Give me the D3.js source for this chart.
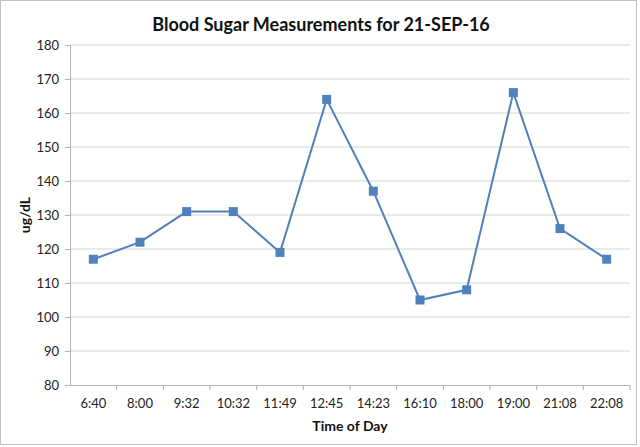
<!DOCTYPE html>
<html>
<head>
<meta charset="utf-8">
<script src="https://cdn.jsdelivr.net/npm/d3@7"></script>
<style>
  body { margin: 0; background: #fff; }
  svg { display: block; font-family: Lato, "Open Sans", sans-serif; }
</style>
</head>
<body>
<div id="chart"></div>
<script>
var times = ["6:40", "8:00", "9:32", "10:32", "11:49", "12:45", "14:23", "16:10", "18:00", "19:00", "21:08", "22:08"];
var sugar = [117, 122, 131, 131, 119, 164, 137, 105, 108, 166, 126, 117];
var yTicks = [80, 90, 100, 110, 120, 130, 140, 150, 160, 170, 180];

var w = 640, h = 447;
var margin = { left: 70, right: 10, top: 45, bottom: 62 };
var color = "#4f81bd";

var svg = d3.select("#chart").append("svg")
    .attr("width", w)
    .attr("height", h);

// outer frame
svg.append("rect")
    .attr("x", 0.5).attr("y", 0.5)
    .attr("width", w - 4).attr("height", h - 3)
    .attr("fill", "#fff")
    .attr("stroke", "#bfbfbf");

var x = d3.scaleBand()
    .domain(times)
    .range([margin.left, w - margin.right]);

var y = d3.scaleLinear()
    .domain([80, 180])
    .range([h - margin.bottom, margin.top]);

// gridlines
svg.append("g")
    .selectAll("line")
    .data(yTicks.slice(1))
    .enter().append("line")
    .attr("x1", margin.left)
    .attr("x2", w - margin.right)
    .attr("y1", d => y(d))
    .attr("y2", d => y(d))
    .attr("stroke", "#d4d4d4")
    .attr("stroke-width", 1);

// y axis
var yAxis = svg.append("g")
    .attr("transform", "translate(" + margin.left + ",0)")
    .call(d3.axisLeft(y).tickValues(yTicks).tickSize(5).tickPadding(6));
yAxis.select(".domain").attr("stroke", "#b3b3b3");
yAxis.selectAll(".tick line").attr("stroke", "#b3b3b3");
yAxis.selectAll("text").attr("font-size", 13).attr("fill", "#222")
    .attr("font-family", "Lato, sans-serif");

// x axis, ticks at band boundaries
var xAxis = svg.append("g")
    .attr("transform", "translate(0," + (h - margin.bottom) + ")")
    .call(d3.axisBottom(x).tickSize(0).tickPadding(14));
xAxis.select(".domain").attr("stroke", "#b3b3b3");
xAxis.selectAll("text").attr("font-size", 13).attr("fill", "#222")
    .attr("font-family", "Lato, sans-serif");
xAxis.selectAll(".bound")
    .data(times)
    .enter().append("line")
    .attr("class", "bound")
    .attr("x1", d => x(d) + x.bandwidth())
    .attr("x2", d => x(d) + x.bandwidth())
    .attr("y1", 0).attr("y2", 5)
    .attr("stroke", "#b3b3b3");

// line
var line = d3.line()
    .x((d, i) => x(times[i]) + x.bandwidth() / 2)
    .y(d => y(d));

svg.append("path")
    .datum(sugar)
    .attr("d", line)
    .attr("fill", "none")
    .attr("stroke", color)
    .attr("stroke-width", 2);

svg.append("g")
    .selectAll("rect")
    .data(sugar)
    .enter().append("rect")
    .attr("x", (d, i) => x(times[i]) + x.bandwidth() / 2 - 4.5)
    .attr("y", d => y(d) - 4.5)
    .attr("width", 9)
    .attr("height", 9)
    .attr("fill", color);

// titles
svg.append("text")
    .attr("x", 321).attr("y", 31)
    .attr("text-anchor", "middle")
    .attr("font-size", 18).attr("font-weight", "bold")
    .attr("fill", "#111")
    .text("Blood Sugar Measurements for 21-SEP-16");

svg.append("text")
    .attr("transform", "translate(30," + ((margin.top + h - margin.bottom) / 2) + ") rotate(-90)")
    .attr("text-anchor", "middle")
    .attr("font-size", 14).attr("font-weight", "bold")
    .attr("fill", "#111")
    .text("ug/dL");

svg.append("text")
    .attr("x", (margin.left + w - margin.right) / 2)
    .attr("y", 431)
    .attr("text-anchor", "middle")
    .attr("font-size", 14).attr("font-weight", "bold")
    .attr("fill", "#111")
    .text("Time of Day");
</script>
</body>
</html>
